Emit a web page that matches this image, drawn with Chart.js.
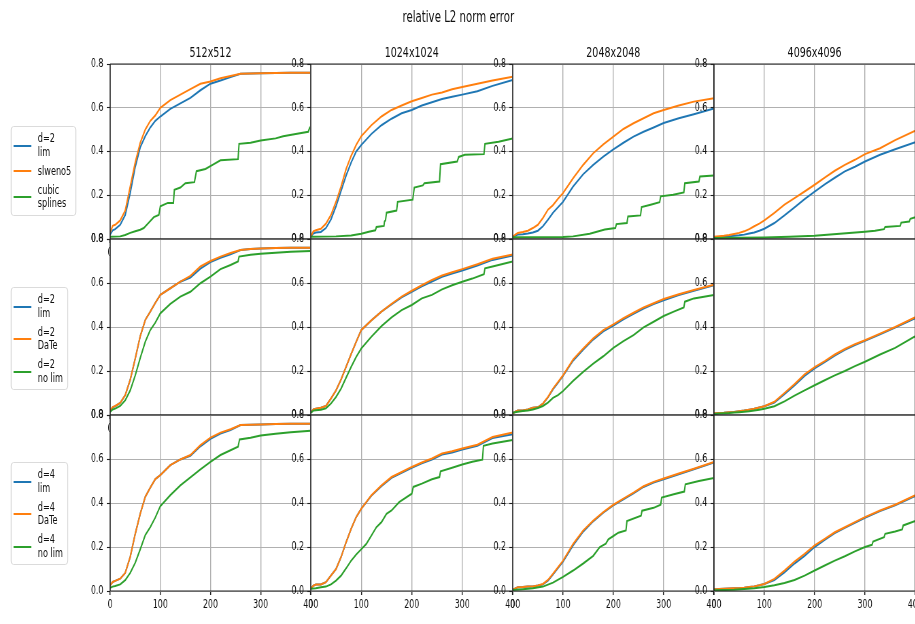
<!DOCTYPE html>
<html>
<head>
<meta charset="utf-8">
<title>relative L2 norm error</title>
<script src="https://cdn.jsdelivr.net/npm/chart.js"></script>
<style>
  html, body { margin: 0; padding: 0; background: #fff; overflow: hidden; }
  body { width: 915px; height: 624px; position: relative; font-family: 'DejaVu Sans', sans-serif; color: #111; }
  /* the reference is a squeezed matplotlib figure: draw wide, squeeze horizontally */
  #fig { position: absolute; left: 0; top: 0; width: 1346px; height: 624px; transform: scaleX(0.68); transform-origin: 0 0; }
  #fig canvas { position: absolute; }
  .txt { position: absolute; white-space: nowrap; text-align: center; }
  .legend { position: absolute; left: 16px; border: 1px solid #d4d4d4; border-radius: 4px; background: rgba(255,255,255,0.8);
            padding: 5px 6px 4px 2.5px; display: flex; flex-direction: column; gap: 5.5px; font-size: 12px; }
  .entry { display: flex; align-items: center; }
  .swatch { width: 26px; height: 2px; margin-right: 10px; }
  .label { line-height: 13.5px; white-space: pre; }
</style>
</head>
<body>
<div id="fig"></div>
<script>
// ---------- data ----------
const xGrid = [0, 5, 10, 20, 30, 40, 50, 60, 70, 80, 90, 100, 120, 140, 160, 180, 200, 220, 240, 260, 280, 300, 330, 360, 400];

const resolutions = ["512x512", "1024x1024", "2048x2048", "4096x4096"];
const legendLabels = [
    ["d=2\nlim", "slweno5", "cubic\nsplines"],
    ["d=2\nlim", "d=2\nDaTe", "d=2\nno lim"],
    ["d=4\nlim", "d=4\nDaTe", "d=4\nno lim"]
];
const xTickStep = 100;
const yTickStep = 0.2;

// row 1: d=2 lim / slweno5 / cubic splines
const lim512 = [0.02, 0.04, 0.045, 0.065, 0.11, 0.21, 0.33, 0.42, 0.47, 0.51, 0.54, 0.56, 0.595, 0.62, 0.645, 0.68, 0.71, 0.725, 0.74, 0.755, 0.757, 0.758, 0.759, 0.76, 0.76];
const weno512 = [0.03, 0.06, 0.065, 0.085, 0.13, 0.24, 0.35, 0.44, 0.50, 0.54, 0.565, 0.60, 0.635, 0.66, 0.685, 0.71, 0.72, 0.735, 0.745, 0.755, 0.757, 0.758, 0.759, 0.76, 0.76];
const cubic512X = [0, 20, 30, 40, 50, 60, 67, 75, 87, 97, 100, 115, 126, 128, 140, 150, 168, 172, 190, 205, 220, 255, 257, 280, 300, 330, 345, 370, 395, 398, 400];
const cubic512Y = [0.01, 0.012, 0.018, 0.028, 0.035, 0.042, 0.05, 0.07, 0.10, 0.11, 0.15, 0.165, 0.165, 0.225, 0.235, 0.255, 0.26, 0.31, 0.32, 0.34, 0.36, 0.365, 0.435, 0.44, 0.45, 0.46, 0.47, 0.48, 0.49, 0.51, 0.51];

const lim1024 = [0.01, 0.025, 0.03, 0.032, 0.05, 0.09, 0.15, 0.22, 0.29, 0.35, 0.40, 0.43, 0.48, 0.52, 0.55, 0.575, 0.59, 0.61, 0.625, 0.64, 0.65, 0.66, 0.675, 0.70, 0.727];
const weno1024 = [0.01, 0.035, 0.04, 0.047, 0.07, 0.11, 0.17, 0.24, 0.32, 0.38, 0.43, 0.47, 0.52, 0.56, 0.59, 0.61, 0.63, 0.645, 0.66, 0.67, 0.685, 0.695, 0.71, 0.725, 0.742];
const cubic1024X = [0, 50, 80, 100, 115, 128, 130, 145, 146, 148, 150, 170, 172, 202, 205, 222, 225, 255, 257, 290, 293, 305, 343, 345, 372, 400];
const cubic1024Y = [0.01, 0.012, 0.016, 0.024, 0.033, 0.04, 0.055, 0.06, 0.08, 0.085, 0.12, 0.13, 0.17, 0.18, 0.235, 0.245, 0.255, 0.263, 0.342, 0.354, 0.375, 0.385, 0.388, 0.435, 0.445, 0.46];

const lim2048 = [0.01, 0.015, 0.02, 0.022, 0.025, 0.03, 0.038, 0.058, 0.088, 0.12, 0.145, 0.17, 0.24, 0.296, 0.339, 0.377, 0.41, 0.44, 0.468, 0.49, 0.51, 0.53, 0.552, 0.57, 0.597];
const weno2048 = [0.01, 0.02, 0.027, 0.032, 0.038, 0.05, 0.065, 0.096, 0.134, 0.155, 0.184, 0.21, 0.278, 0.339, 0.392, 0.433, 0.468, 0.503, 0.529, 0.552, 0.575, 0.59, 0.61, 0.628, 0.643];
const cubic2048X = [0, 100, 120, 153, 183, 204, 206, 227, 229, 254, 256, 274, 292, 294, 319, 340, 342, 370, 372, 400];
const cubic2048Y = [0.008, 0.009, 0.012, 0.024, 0.043, 0.05, 0.068, 0.073, 0.103, 0.108, 0.146, 0.157, 0.168, 0.195, 0.202, 0.213, 0.255, 0.263, 0.286, 0.29];

const lim4096 = [0.005, 0.006, 0.007, 0.01, 0.012, 0.015, 0.017, 0.02, 0.025, 0.03, 0.038, 0.047, 0.073, 0.108, 0.145, 0.182, 0.217, 0.25, 0.28, 0.309, 0.33, 0.354, 0.385, 0.41, 0.442];
const weno4096 = [0.01, 0.012, 0.013, 0.015, 0.018, 0.023, 0.028, 0.035, 0.045, 0.058, 0.07, 0.085, 0.119, 0.157, 0.187, 0.217, 0.248, 0.281, 0.312, 0.339, 0.362, 0.388, 0.415, 0.452, 0.495];
const cubic4096X = [0, 100, 150, 200, 250, 300, 320, 338, 340, 370, 372, 388, 390, 400];
const cubic4096Y = [0.005, 0.007, 0.01, 0.015, 0.024, 0.033, 0.038, 0.045, 0.055, 0.06, 0.075, 0.08, 0.092, 0.1];

// row 2: d=2 lim / DaTe / no lim
const d2lim512 = [0.02, 0.035, 0.04, 0.055, 0.09, 0.16, 0.257, 0.359, 0.432, 0.47, 0.51, 0.546, 0.576, 0.606, 0.625, 0.665, 0.695, 0.715, 0.73, 0.75, 0.755, 0.757, 0.759, 0.76, 0.76];
const d2date512 = [0.021, 0.036, 0.041, 0.055, 0.09, 0.161, 0.257, 0.359, 0.432, 0.47, 0.51, 0.546, 0.576, 0.606, 0.632, 0.675, 0.70, 0.72, 0.736, 0.75, 0.755, 0.757, 0.759, 0.76, 0.76];
const d2nolim512X = [0, 5, 10, 20, 30, 40, 50, 60, 70, 80, 90, 100, 120, 140, 160, 180, 200, 220, 240, 255, 257, 280, 300, 330, 360, 400];
const d2nolim512Y = [0.014, 0.025, 0.029, 0.041, 0.067, 0.112, 0.18, 0.26, 0.333, 0.386, 0.42, 0.462, 0.505, 0.538, 0.56, 0.599, 0.629, 0.663, 0.682, 0.698, 0.72, 0.728, 0.733, 0.738, 0.742, 0.745];

const d2lim1024 = [0.01, 0.025, 0.029, 0.033, 0.041, 0.075, 0.112, 0.161, 0.219, 0.277, 0.333, 0.386, 0.43, 0.47, 0.503, 0.535, 0.56, 0.585, 0.607, 0.628, 0.643, 0.657, 0.68, 0.705, 0.725];
const d2date1024 = [0.01, 0.025, 0.029, 0.033, 0.041, 0.075, 0.112, 0.161, 0.219, 0.277, 0.333, 0.386, 0.43, 0.47, 0.505, 0.538, 0.565, 0.59, 0.614, 0.634, 0.649, 0.663, 0.685, 0.71, 0.73];
const d2nolim1024X = [0, 5, 10, 20, 30, 40, 50, 60, 70, 80, 90, 100, 120, 140, 160, 180, 200, 220, 240, 260, 280, 300, 320, 343, 345, 360, 400];
const d2nolim1024Y = [0.01, 0.02, 0.022, 0.024, 0.03, 0.052, 0.082, 0.12, 0.17, 0.219, 0.264, 0.302, 0.356, 0.404, 0.444, 0.477, 0.50, 0.53, 0.546, 0.571, 0.59, 0.606, 0.62, 0.64, 0.667, 0.675, 0.698];

const d2lim2048 = [0.006, 0.015, 0.02, 0.02, 0.025, 0.033, 0.035, 0.052, 0.08, 0.117, 0.147, 0.178, 0.247, 0.297, 0.343, 0.38, 0.406, 0.435, 0.46, 0.484, 0.504, 0.522, 0.545, 0.565, 0.59];
const d2date2048 = [0.006, 0.015, 0.02, 0.02, 0.025, 0.033, 0.035, 0.052, 0.082, 0.12, 0.15, 0.181, 0.252, 0.302, 0.348, 0.386, 0.412, 0.44, 0.465, 0.489, 0.508, 0.527, 0.549, 0.568, 0.592];
const d2nolim2048X = [0, 10, 20, 30, 40, 50, 60, 70, 80, 90, 100, 120, 140, 160, 180, 200, 220, 240, 260, 280, 300, 320, 340, 342, 360, 400];
const d2nolim2048Y = [0.01, 0.015, 0.018, 0.02, 0.025, 0.032, 0.041, 0.056, 0.078, 0.09, 0.109, 0.155, 0.196, 0.234, 0.267, 0.305, 0.336, 0.363, 0.398, 0.424, 0.45, 0.47, 0.489, 0.515, 0.53, 0.546];

const d2lim4096 = [0.008, 0.008, 0.009, 0.01, 0.012, 0.014, 0.017, 0.02, 0.024, 0.028, 0.034, 0.04, 0.057, 0.095, 0.135, 0.178, 0.212, 0.24, 0.27, 0.296, 0.318, 0.337, 0.367, 0.397, 0.44];
const d2date4096 = [0.008, 0.008, 0.009, 0.01, 0.012, 0.014, 0.017, 0.02, 0.024, 0.028, 0.034, 0.04, 0.06, 0.1, 0.14, 0.185, 0.218, 0.245, 0.275, 0.3, 0.322, 0.34, 0.37, 0.4, 0.444];
const d2nolim4096 = [0.005, 0.006, 0.007, 0.008, 0.009, 0.011, 0.013, 0.015, 0.017, 0.02, 0.024, 0.028, 0.04, 0.062, 0.088, 0.112, 0.135, 0.158, 0.18, 0.2, 0.222, 0.242, 0.275, 0.305, 0.358];

// row 3: d=4 lim / DaTe / no lim
const d4lim512 = [0.026, 0.041, 0.046, 0.056, 0.082, 0.155, 0.26, 0.352, 0.428, 0.47, 0.509, 0.527, 0.572, 0.598, 0.615, 0.658, 0.692, 0.716, 0.732, 0.754, 0.756, 0.757, 0.759, 0.76, 0.76];
const d4date512 = [0.026, 0.041, 0.046, 0.056, 0.082, 0.155, 0.26, 0.352, 0.428, 0.47, 0.509, 0.527, 0.572, 0.598, 0.618, 0.663, 0.697, 0.72, 0.735, 0.754, 0.756, 0.757, 0.759, 0.76, 0.76];
const d4nolim512X = [0, 5, 10, 20, 30, 40, 50, 60, 70, 80, 90, 100, 120, 140, 160, 180, 200, 220, 240, 255, 258, 280, 300, 330, 360, 400];
const d4nolim512Y = [0.015, 0.02, 0.023, 0.03, 0.049, 0.082, 0.128, 0.19, 0.254, 0.29, 0.334, 0.386, 0.436, 0.48, 0.516, 0.553, 0.587, 0.618, 0.64, 0.656, 0.689, 0.697, 0.707, 0.715, 0.722, 0.728];

const d4lim1024 = [0.01, 0.024, 0.029, 0.03, 0.04, 0.07, 0.10, 0.154, 0.222, 0.283, 0.336, 0.374, 0.433, 0.477, 0.514, 0.537, 0.56, 0.58, 0.598, 0.62, 0.63, 0.643, 0.66, 0.695, 0.713];
const d4date1024 = [0.01, 0.024, 0.029, 0.03, 0.04, 0.07, 0.10, 0.154, 0.222, 0.283, 0.336, 0.374, 0.435, 0.48, 0.518, 0.541, 0.564, 0.584, 0.602, 0.625, 0.635, 0.648, 0.665, 0.70, 0.72];
const d4nolim1024X = [0, 10, 20, 30, 40, 50, 60, 70, 80, 90, 100, 110, 120, 130, 140, 150, 160, 175, 200, 203, 220, 240, 255, 257, 280, 300, 320, 340, 342, 360, 400];
const d4nolim1024Y = [0.01, 0.012, 0.017, 0.02, 0.03, 0.047, 0.07, 0.103, 0.138, 0.166, 0.19, 0.214, 0.252, 0.29, 0.313, 0.351, 0.366, 0.404, 0.442, 0.473, 0.488, 0.508, 0.518, 0.544, 0.56, 0.575, 0.587, 0.597, 0.66, 0.67, 0.686];

const d4lim2048 = [0.005, 0.012, 0.017, 0.018, 0.02, 0.021, 0.025, 0.03, 0.047, 0.075, 0.105, 0.134, 0.208, 0.27, 0.317, 0.356, 0.389, 0.417, 0.444, 0.473, 0.493, 0.508, 0.531, 0.553, 0.584];
const d4date2048 = [0.005, 0.012, 0.017, 0.018, 0.02, 0.021, 0.025, 0.032, 0.05, 0.078, 0.108, 0.138, 0.214, 0.275, 0.32, 0.359, 0.392, 0.42, 0.447, 0.476, 0.496, 0.511, 0.534, 0.556, 0.587];
const d4nolim2048X = [0, 20, 40, 60, 80, 100, 120, 140, 160, 173, 185, 190, 200, 210, 225, 227, 255, 257, 280, 294, 296, 320, 341, 343, 370, 400];
const d4nolim2048Y = [0.005, 0.008, 0.012, 0.02, 0.038, 0.064, 0.093, 0.125, 0.16, 0.2, 0.215, 0.235, 0.25, 0.265, 0.275, 0.318, 0.342, 0.365, 0.378, 0.392, 0.425, 0.44, 0.452, 0.485, 0.5, 0.514];

const d4lim4096 = [0.008, 0.008, 0.009, 0.01, 0.011, 0.012, 0.013, 0.015, 0.018, 0.021, 0.026, 0.032, 0.05, 0.085, 0.125, 0.16, 0.2, 0.232, 0.263, 0.287, 0.31, 0.333, 0.363, 0.39, 0.432];
const d4date4096 = [0.008, 0.008, 0.009, 0.01, 0.011, 0.012, 0.013, 0.015, 0.018, 0.021, 0.026, 0.032, 0.055, 0.093, 0.134, 0.169, 0.207, 0.237, 0.267, 0.29, 0.313, 0.336, 0.366, 0.392, 0.435];
const d4nolim4096X = [0, 40, 80, 100, 120, 140, 160, 180, 200, 220, 240, 260, 280, 300, 314, 316, 338, 340, 360, 374, 376, 400];
const d4nolim4096Y = [0.003, 0.006, 0.012, 0.018, 0.026, 0.036, 0.05, 0.07, 0.093, 0.116, 0.138, 0.158, 0.18, 0.2, 0.21, 0.225, 0.245, 0.26, 0.27, 0.28, 0.298, 0.318];

// each panel: [blue, orange, green] as [x values, y values]
const panels = [
    [[[xGrid, lim512], [xGrid, weno512], [cubic512X, cubic512Y]],
     [[xGrid, lim1024], [xGrid, weno1024], [cubic1024X, cubic1024Y]],
     [[xGrid, lim2048], [xGrid, weno2048], [cubic2048X, cubic2048Y]],
     [[xGrid, lim4096], [xGrid, weno4096], [cubic4096X, cubic4096Y]]],
    [[[xGrid, d2lim512], [xGrid, d2date512], [d2nolim512X, d2nolim512Y]],
     [[xGrid, d2lim1024], [xGrid, d2date1024], [d2nolim1024X, d2nolim1024Y]],
     [[xGrid, d2lim2048], [xGrid, d2date2048], [d2nolim2048X, d2nolim2048Y]],
     [[xGrid, d2lim4096], [xGrid, d2date4096], [xGrid, d2nolim4096]]],
    [[[xGrid, d4lim512], [xGrid, d4date512], [d4nolim512X, d4nolim512Y]],
     [[xGrid, d4lim1024], [xGrid, d4date1024], [d4nolim1024X, d4nolim1024Y]],
     [[xGrid, d4lim2048], [xGrid, d4date2048], [d4nolim2048X, d4nolim2048Y]],
     [[xGrid, d4lim4096], [xGrid, d4date4096], [d4nolim4096X, d4nolim4096Y]]]
];

// ---------- layout (unsqueezed px) ----------
const colors = ["#1f77b4", "#ff7f0e", "#2ca02c"];
const colLeft = [162, 457, 754, 1050, 1346];
const rowTop = [64, 239, 415, 591];
const legendTop = [126, 287, 462];
const padL = 50, padT = 10, padR = 24, padB = 26;

Chart.defaults.font.family = "'DejaVu Sans', sans-serif";
Chart.defaults.color = "#111";

const fig = document.getElementById("fig");

function addText(text, cx, cy, size) {
    const d = document.createElement("div");
    d.className = "txt";
    d.textContent = text;
    d.style.fontSize = size + "px";
    d.style.lineHeight = "20px";
    d.style.width = "400px";
    d.style.left = (cx - 200) + "px";
    d.style.top = (cy - 10) + "px";
    fig.appendChild(d);
}

// white axes background + four spines, like matplotlib
const framePlugin = {
    id: "frame",
    beforeDraw(chart) {
        const { ctx, chartArea: a } = chart;
        ctx.save();
        ctx.fillStyle = "#fff";
        ctx.fillRect(a.left, a.top, a.right - a.left, a.bottom - a.top);
        ctx.restore();
    },
    afterDatasetsDraw(chart) {
        const { ctx, chartArea: a } = chart;
        ctx.save();
        ctx.strokeStyle = "#222";
        ctx.lineWidth = 1.1;
        ctx.beginPath();
        ctx.moveTo(a.left, a.top); ctx.lineTo(a.right, a.top);
        ctx.moveTo(a.left, a.bottom); ctx.lineTo(a.right, a.bottom);
        ctx.stroke();
        ctx.lineWidth = 1.5;
        ctx.beginPath();
        ctx.moveTo(a.left, a.top); ctx.lineTo(a.left, a.bottom);
        ctx.moveTo(a.right, a.top); ctx.lineTo(a.right, a.bottom);
        ctx.stroke();
        ctx.restore();
    }
};

function fixSize(prop, size) {
    return scale => {
        scale[prop] = size;
        scale.paddingLeft = scale.paddingRight = scale.paddingTop = scale.paddingBottom = 0;
    };
}

function makePanel(r, c) {
    const w = colLeft[c + 1] - colLeft[c];
    const h = rowTop[r + 1] - rowTop[r];
    const canvas = document.createElement("canvas");
    canvas.width = w + padL + padR;
    canvas.height = h + padT + padB;
    canvas.style.left = (colLeft[c] - padL) + "px";
    canvas.style.top = (rowTop[r] - padT) + "px";
    fig.appendChild(canvas);

    new Chart(canvas, {
        type: "line",
        data: {
            datasets: panels[r][c].map((s, i) => ({
                data: s[0].map((x, k) => ({ x: x, y: s[1][k] })),
                borderColor: colors[i],
                borderWidth: 2,
                pointRadius: 0,
                fill: false,
                tension: 0,
                order: 3 - i
            }))
        },
        options: {
            responsive: false,
            animation: false,
            events: [],
            layout: { padding: { top: padT, right: padR, left: 0, bottom: 0 } },
            plugins: { legend: { display: false }, tooltip: { enabled: false } },
            scales: {
                x: {
                    type: "linear", min: 0, max: 400,
                    afterFit: fixSize("height", padB),
                    ticks: { stepSize: xTickStep, padding: 3, maxRotation: 0, autoSkip: false, font: { size: 11.5 } },
                    grid: { color: "#b0b0b0", lineWidth: 1.4, tickLength: 4, tickColor: "#222", tickWidth: 1.5 },
                    border: { display: false }
                },
                y: {
                    min: 0, max: 0.8,
                    afterFit: fixSize("width", padL),
                    ticks: { stepSize: yTickStep, padding: 5, font: { size: 11.5 }, callback: v => v.toFixed(1) },
                    grid: { color: "#b0b0b0", lineWidth: 1, tickLength: 5, tickColor: "#222", tickWidth: 1.1 },
                    border: { display: false }
                }
            }
        },
        plugins: [framePlugin]
    });
}

function makeLegend(r) {
    const box = document.createElement("div");
    box.className = "legend";
    box.style.top = legendTop[r] + "px";
    legendLabels[r].forEach((txt, i) => {
        const e = document.createElement("div");
        e.className = "entry";
        const sw = document.createElement("div");
        sw.className = "swatch";
        sw.style.background = colors[i];
        const lb = document.createElement("div");
        lb.className = "label";
        lb.textContent = txt;
        e.appendChild(sw);
        e.appendChild(lb);
        box.appendChild(e);
    });
    fig.appendChild(box);
}

addText("relative L2 norm error", 674, 17, 15);
resolutions.forEach((t, c) => addText(t, (colLeft[c] + colLeft[c + 1]) / 2, 52, 14));

for (let r = 0; r < 3; r++) {
    for (let c = 0; c < 4; c++) makePanel(r, c);
}
for (let r = 0; r < 3; r++) makeLegend(r);
</script>
</body>
</html>
